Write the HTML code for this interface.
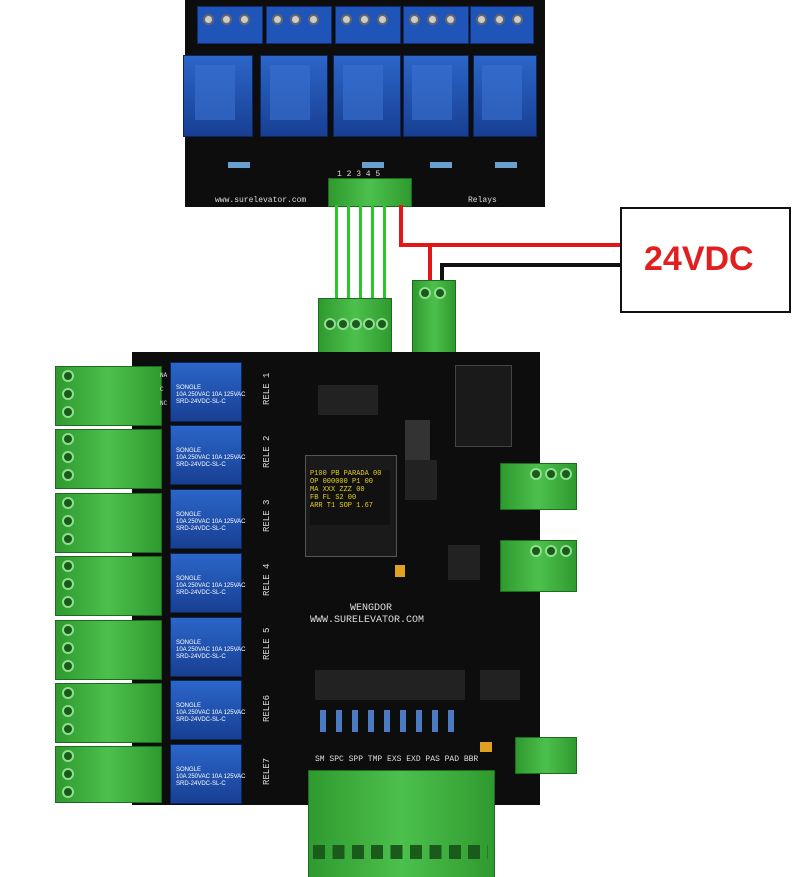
<!DOCTYPE html>
<html><head><meta charset="utf-8"><style>
html,body{margin:0;padding:0;background:#fff;width:794px;height:877px;overflow:hidden;position:relative;font-family:"Liberation Sans",sans-serif}
.a{position:absolute}
.blk{background:#0d0d0d}
.blue{background:#1f55b8;border:1px solid #0e2f70}
.rel{background:linear-gradient(#2b66c9,#183f93);border:1px solid #0a2560}
.grn{background:linear-gradient(90deg,#2f9a2f,#4cc04c,#2f9a2f);border:1px solid #1d6b1d}
.s{position:absolute;width:12px;height:12px;border-radius:50%;background:#1a5a1a;border:2px solid #8ee08e;box-sizing:border-box}
.sb{position:absolute;width:11px;height:11px;border-radius:50%;background:#ccc;border:2px solid #666;box-sizing:border-box}
.w{position:absolute;background:#28c828}
.txt{color:#ddd;font-size:9px;font-family:"Liberation Mono",monospace}
.rl{position:absolute;color:#fff;font-size:6px;line-height:7px;font-family:"Liberation Sans",sans-serif}
</style></head><body>

<!-- top relay board -->
<div class="a blk" style="left:185px;top:0;width:360px;height:207px"></div>
<div class="a blue" style="left:197px;top:6px;width:64px;height:36px"></div>
<div class="a blue" style="left:266px;top:6px;width:64px;height:36px"></div>
<div class="a blue" style="left:335px;top:6px;width:64px;height:36px"></div>
<div class="a blue" style="left:403px;top:6px;width:64px;height:36px"></div>
<div class="a blue" style="left:470px;top:6px;width:62px;height:36px"></div>
<div class="sb" style="left:203px;top:14px"></div><div class="sb" style="left:221px;top:14px"></div><div class="sb" style="left:239px;top:14px"></div>
<div class="sb" style="left:272px;top:14px"></div><div class="sb" style="left:290px;top:14px"></div><div class="sb" style="left:308px;top:14px"></div>
<div class="sb" style="left:341px;top:14px"></div><div class="sb" style="left:359px;top:14px"></div><div class="sb" style="left:377px;top:14px"></div>
<div class="sb" style="left:409px;top:14px"></div><div class="sb" style="left:427px;top:14px"></div><div class="sb" style="left:445px;top:14px"></div>
<div class="sb" style="left:476px;top:14px"></div><div class="sb" style="left:494px;top:14px"></div><div class="sb" style="left:512px;top:14px"></div>
<div class="a rel" style="left:183px;top:55px;width:68px;height:80px"></div>
<div class="a rel" style="left:260px;top:55px;width:66px;height:80px"></div>
<div class="a rel" style="left:333px;top:55px;width:66px;height:80px"></div>
<div class="a rel" style="left:403px;top:55px;width:64px;height:80px"></div>
<div class="a rel" style="left:473px;top:55px;width:62px;height:80px"></div>
<div class="a" style="left:195px;top:65px;width:40px;height:55px;background:#3a72d0;opacity:.6"></div>
<div class="a" style="left:270px;top:65px;width:40px;height:55px;background:#3a72d0;opacity:.6"></div>
<div class="a" style="left:343px;top:65px;width:40px;height:55px;background:#3a72d0;opacity:.6"></div>
<div class="a" style="left:412px;top:65px;width:40px;height:55px;background:#3a72d0;opacity:.6"></div>
<div class="a" style="left:482px;top:65px;width:40px;height:55px;background:#3a72d0;opacity:.6"></div>
<div class="a" style="left:228px;top:162px;width:22px;height:6px;background:#6aa0d0"></div>
<div class="a" style="left:362px;top:162px;width:22px;height:6px;background:#6aa0d0"></div>
<div class="a" style="left:430px;top:162px;width:22px;height:6px;background:#6aa0d0"></div>
<div class="a" style="left:495px;top:162px;width:22px;height:6px;background:#6aa0d0"></div>
<div class="a grn" style="left:328px;top:178px;width:82px;height:27px"></div>
<div class="a txt" style="left:337px;top:170px;font-size:8px">1 2 3 4 5</div>
<div class="a txt" style="left:215px;top:196px;font-size:8px">www.surelevator.com</div>
<div class="a txt" style="left:468px;top:196px;font-size:8px">Relays</div>

<!-- green wires -->
<div class="w" style="left:335px;top:205px;width:3px;height:95px"></div>
<div class="w" style="left:347px;top:205px;width:3px;height:95px"></div>
<div class="w" style="left:359px;top:205px;width:3px;height:95px"></div>
<div class="w" style="left:371px;top:205px;width:3px;height:95px"></div>
<div class="w" style="left:383px;top:205px;width:3px;height:95px"></div>
<div class="a grn" style="left:318px;top:298px;width:72px;height:55px"></div>
<div class="s" style="left:324px;top:318px"></div><div class="s" style="left:337px;top:318px"></div><div class="s" style="left:350px;top:318px"></div><div class="s" style="left:363px;top:318px"></div><div class="s" style="left:376px;top:318px"></div>

<!-- power wires -->
<div class="a" style="left:399px;top:205px;width:4px;height:42px;background:#e01818"></div>
<div class="a" style="left:399px;top:243px;width:222px;height:4px;background:#e01818"></div>
<div class="a" style="left:428px;top:243px;width:4px;height:40px;background:#e01818"></div>
<div class="a" style="left:440px;top:263px;width:181px;height:4px;background:#111"></div>
<div class="a" style="left:440px;top:263px;width:4px;height:20px;background:#111"></div>
<div class="a grn" style="left:412px;top:280px;width:42px;height:75px"></div>
<div class="s" style="left:419px;top:287px"></div><div class="s" style="left:434px;top:287px"></div>

<!-- 24VDC box -->
<div class="a" style="left:620px;top:207px;width:167px;height:102px;border:2px solid #111;background:#fff"></div>
<div class="a" style="left:644px;top:240px;font-size:34px;font-weight:bold;color:#e02020">24VDC</div>

<!-- main board -->
<div class="a blk" style="left:132px;top:352px;width:408px;height:453px"></div>
<!-- relays -->
<div class="a rel" style="left:170px;top:362px;width:70px;height:58px"></div>
<div class="a rel" style="left:170px;top:425px;width:70px;height:58px"></div>
<div class="a rel" style="left:170px;top:489px;width:70px;height:58px"></div>
<div class="a rel" style="left:170px;top:553px;width:70px;height:58px"></div>
<div class="a rel" style="left:170px;top:617px;width:70px;height:58px"></div>
<div class="a rel" style="left:170px;top:680px;width:70px;height:58px"></div>
<div class="a rel" style="left:170px;top:744px;width:70px;height:58px"></div>
<div class="rl" style="left:176px;top:385px">SONGLE<br>10A 250VAC 10A 125VAC<br>SRD-24VDC-SL-C</div>
<div class="rl" style="left:176px;top:448px">SONGLE<br>10A 250VAC 10A 125VAC<br>SRD-24VDC-SL-C</div>
<div class="rl" style="left:176px;top:512px">SONGLE<br>10A 250VAC 10A 125VAC<br>SRD-24VDC-SL-C</div>
<div class="rl" style="left:176px;top:576px">SONGLE<br>10A 250VAC 10A 125VAC<br>SRD-24VDC-SL-C</div>
<div class="rl" style="left:176px;top:640px">SONGLE<br>10A 250VAC 10A 125VAC<br>SRD-24VDC-SL-C</div>
<div class="rl" style="left:176px;top:703px">SONGLE<br>10A 250VAC 10A 125VAC<br>SRD-24VDC-SL-C</div>
<div class="rl" style="left:176px;top:767px">SONGLE<br>10A 250VAC 10A 125VAC<br>SRD-24VDC-SL-C</div>
<!-- RELE labels -->
<div class="a txt" style="left:262px;top:380px;transform:rotate(-90deg);transform-origin:0 0;top:405px">RELE 1</div>
<div class="a txt" style="left:262px;top:468px;transform:rotate(-90deg);transform-origin:0 0">RELE 2</div>
<div class="a txt" style="left:262px;top:532px;transform:rotate(-90deg);transform-origin:0 0">RELE 3</div>
<div class="a txt" style="left:262px;top:596px;transform:rotate(-90deg);transform-origin:0 0">RELE 4</div>
<div class="a txt" style="left:262px;top:660px;transform:rotate(-90deg);transform-origin:0 0">RELE 5</div>
<div class="a txt" style="left:262px;top:722px;transform:rotate(-90deg);transform-origin:0 0">RELE6</div>
<div class="a txt" style="left:262px;top:785px;transform:rotate(-90deg);transform-origin:0 0">RELE7</div>
<!-- left terminals -->
<div class="a grn" style="left:55px;top:366px;width:105px;height:58px"></div>
<div class="a grn" style="left:55px;top:429px;width:105px;height:58px"></div>
<div class="a grn" style="left:55px;top:493px;width:105px;height:58px"></div>
<div class="a grn" style="left:55px;top:556px;width:105px;height:58px"></div>
<div class="a grn" style="left:55px;top:620px;width:105px;height:58px"></div>
<div class="a grn" style="left:55px;top:683px;width:105px;height:58px"></div>
<div class="a grn" style="left:55px;top:746px;width:105px;height:55px"></div>
<div class="s" style="left:62px;top:370px"></div><div class="s" style="left:62px;top:388px"></div><div class="s" style="left:62px;top:406px"></div>
<div class="s" style="left:62px;top:433px"></div><div class="s" style="left:62px;top:451px"></div><div class="s" style="left:62px;top:469px"></div>
<div class="s" style="left:62px;top:497px"></div><div class="s" style="left:62px;top:515px"></div><div class="s" style="left:62px;top:533px"></div>
<div class="s" style="left:62px;top:560px"></div><div class="s" style="left:62px;top:578px"></div><div class="s" style="left:62px;top:596px"></div>
<div class="s" style="left:62px;top:624px"></div><div class="s" style="left:62px;top:642px"></div><div class="s" style="left:62px;top:660px"></div>
<div class="s" style="left:62px;top:687px"></div><div class="s" style="left:62px;top:705px"></div><div class="s" style="left:62px;top:723px"></div>
<div class="s" style="left:62px;top:750px"></div><div class="s" style="left:62px;top:768px"></div><div class="s" style="left:62px;top:786px"></div>
<!-- OLED -->
<div class="a" style="left:305px;top:455px;width:90px;height:100px;background:#1a1a1a;border:1px solid #555"></div>
<div class="a" style="left:310px;top:470px;width:80px;height:55px;background:#111;color:#e8d020;font-size:7px;font-family:'Liberation Mono',monospace;line-height:8px">P100 PB PARADA 00<br>OP 000000 P1 00<br>MA XXX ZZZ 00<br>FB FL S2 00<br>ARR T1 SOP 1.67</div>
<!-- chips -->
<div class="a" style="left:318px;top:385px;width:60px;height:30px;background:#222"></div>
<div class="a" style="left:455px;top:365px;width:55px;height:80px;background:#1a1a1a;border:1px solid #444"></div>
<div class="a" style="left:405px;top:420px;width:25px;height:40px;background:#333"></div>
<div class="a" style="left:405px;top:460px;width:32px;height:40px;background:#222"></div>
<div class="a" style="left:448px;top:545px;width:32px;height:35px;background:#222"></div>
<div class="a" style="left:315px;top:670px;width:150px;height:30px;background:#222"></div>
<div class="a" style="left:480px;top:670px;width:40px;height:30px;background:#222"></div>
<div class="a" style="left:320px;top:710px;width:140px;height:22px;background:repeating-linear-gradient(90deg,#4a7ac0 0 6px,transparent 6px 16px)"></div>
<div class="a" style="left:395px;top:565px;width:10px;height:12px;background:#e0a020"></div>
<div class="a" style="left:480px;top:742px;width:12px;height:10px;background:#e0a020"></div>
<!-- right terminals -->
<div class="a grn" style="left:500px;top:463px;width:75px;height:45px"></div>
<div class="a grn" style="left:500px;top:540px;width:75px;height:50px"></div>
<div class="a grn" style="left:515px;top:737px;width:60px;height:35px"></div>
<div class="s" style="left:530px;top:468px"></div><div class="s" style="left:545px;top:468px"></div><div class="s" style="left:560px;top:468px"></div>
<div class="s" style="left:530px;top:545px"></div><div class="s" style="left:545px;top:545px"></div><div class="s" style="left:560px;top:545px"></div>
<!-- bottom terminal -->
<div class="a grn" style="left:308px;top:770px;width:185px;height:107px"></div>
<div class="a" style="left:313px;top:845px;width:175px;height:14px;background:repeating-linear-gradient(90deg,#1a5a1a 0 12px,transparent 12px 19.4px)"></div>
<!-- texts -->
<div class="a txt" style="left:350px;top:603px;font-size:10px">WENGDOR</div>
<div class="a txt" style="left:310px;top:615px;font-size:10px">WWW.SURELEVATOR.COM</div>
<div class="a txt" style="left:315px;top:755px;font-size:8px">SM SPC SPP TMP EXS EXD PAS PAD BBR</div>
<div class="a txt" style="left:160px;top:372px;font-size:6px">NA<br><br>C<br><br>NC</div>
</body></html>
